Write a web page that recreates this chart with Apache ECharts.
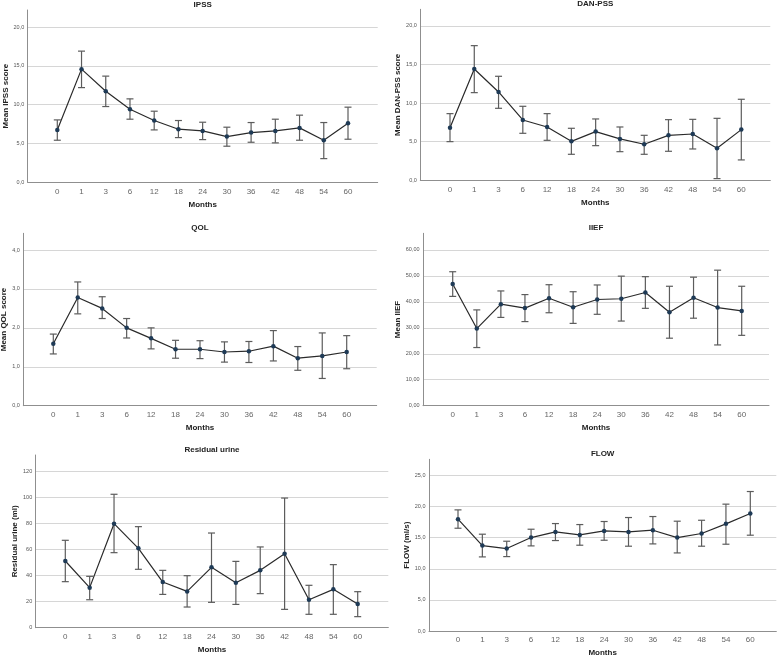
<!DOCTYPE html>
<html>
<head>
<meta charset="utf-8">
<script src="https://cdn.jsdelivr.net/npm/echarts@6/dist/echarts.min.js"></script>
<style>
  html, body { margin: 0; padding: 0; background: #fff; }
  #chart { width: 777px; height: 657px; }
</style>
</head>
<body>
<div id="chart"></div>
<script>
// follow-up months (x categories)
const months = ["0", "1", "3", "6", "12", "18", "24", "30", "36", "42", "48", "54", "60"];

// IPSS
const ipssMean = [6.75, 14.58, 11.74, 9.42, 7.96, 6.84, 6.62, 5.89, 6.41, 6.62, 7.01, 5.42, 7.61];
const ipssLow = [5.42, 12.2, 9.76, 8.13, 6.75, 5.76, 5.5, 4.65, 5.16, 5.08, 5.42, 3.05, 5.55];
const ipssHigh = [8.04, 16.9, 13.68, 10.75, 9.16, 7.96, 7.74, 7.1, 7.7, 8.13, 8.65, 7.7, 9.68];

// DAN-PSS
const danMean = [6.82, 14.43, 11.45, 7.82, 6.91, 5.05, 6.31, 5.36, 4.67, 5.83, 6.0, 4.15, 6.57];
const danLow = [5.01, 11.36, 9.33, 6.09, 5.18, 3.37, 4.49, 3.71, 3.37, 3.76, 4.06, 0.22, 2.64];
const danHigh = [8.64, 17.45, 13.48, 9.59, 8.64, 6.74, 7.95, 6.91, 5.83, 7.86, 7.9, 8.03, 10.5];

// QOL
const qolMean = [1.59, 2.78, 2.5, 2.0, 1.73, 1.45, 1.45, 1.38, 1.4, 1.53, 1.22, 1.28, 1.38];
const qolLow = [1.33, 2.36, 2.24, 1.74, 1.46, 1.22, 1.21, 1.12, 1.11, 1.15, 0.91, 0.7, 0.95];
const qolHigh = [1.84, 3.18, 2.8, 2.24, 2.0, 1.68, 1.67, 1.64, 1.65, 1.93, 1.52, 1.87, 1.8];

// IIEF
const iiefMean = [46.9, 29.7, 39.1, 37.6, 41.4, 37.9, 40.9, 41.2, 43.6, 36.0, 41.6, 37.8, 36.5];
const iiefLow = [42.1, 22.4, 34.0, 32.4, 35.8, 31.7, 35.2, 32.6, 37.5, 26.0, 33.7, 23.4, 27.1];
const iiefHigh = [51.6, 36.9, 44.2, 42.8, 46.6, 43.9, 46.5, 49.9, 49.7, 46.0, 49.5, 52.2, 46.0];

// Residual urine
const urineMean = [51.3, 30.8, 80.0, 61.0, 35.1, 27.9, 46.4, 34.6, 44.1, 56.9, 21.5, 29.5, 18.2];
const urineLow = [35.4, 21.5, 57.7, 44.9, 25.6, 15.9, 19.5, 17.9, 26.2, 14.1, 10.3, 10.3, 8.5];
const urineHigh = [67.2, 39.5, 102.6, 77.7, 44.1, 40.0, 72.8, 51.0, 62.1, 99.7, 32.6, 48.5, 27.7];

// FLOW
const flowMean = [17.97, 13.73, 13.25, 15.02, 15.93, 15.45, 16.09, 15.93, 16.2, 15.02, 15.67, 17.22, 18.88];
const flowLow = [16.52, 11.91, 11.96, 13.68, 14.54, 13.79, 14.59, 13.63, 14.0, 12.55, 13.63, 13.95, 15.4];
const flowHigh = [19.47, 15.56, 14.43, 16.36, 17.27, 17.11, 17.6, 18.24, 18.4, 17.65, 17.8, 20.39, 22.42];

const FONT = "Liberation Sans, Arial, sans-serif";

// panel frames: l/t/r/b = plot frame, x0/x1 = first/last category centre
const panels = [
  { title: "IPSS", yName: "Mean IPSS score", mean: ipssMean, low: ipssLow, high: ipssHigh,
    yMax: 22.2, step: 5, dec: 1, nameGap: 18,
    l: 27.7, t: 10, r: 377.7, b: 182.3, x0: 57.3, x1: 348 },
  { title: "DAN-PSS", yName: "Mean DAN-PSS score", mean: danMean, low: danLow, high: danHigh,
    yMax: 22.16, step: 5, dec: 1, nameGap: 18,
    l: 420.3, t: 9.3, r: 770.3, b: 180.3, x0: 450, x1: 741.3 },
  { title: "QOL", yName: "Mean QOL score", mean: qolMean, low: qolLow, high: qolHigh,
    yMax: 4.43, step: 1, dec: 1, nameGap: 15,
    l: 23.3, t: 233.3, r: 376.7, b: 405.7, x0: 53.3, x1: 346.7 },
  { title: "IIEF", yName: "Mean IIEF", mean: iiefMean, low: iiefLow, high: iiefHigh,
    yMax: 66.4, step: 10, dec: 2, nameGap: 20,
    l: 423, t: 233.3, r: 769, b: 405.7, x0: 452.7, x1: 741.7 },
  { title: "Residual urine", yName: "Residual urine (ml)", mean: urineMean, low: urineLow, high: urineHigh,
    yMax: 132.8, step: 20, dec: 0, nameGap: 17,
    l: 35.7, t: 455, r: 388.3, b: 627.7, x0: 65.3, x1: 357.7 },
  { title: "FLOW", yName: "FLOW (ml/s)", mean: flowMean, low: flowLow, high: flowHigh,
    yMax: 27.6, step: 5, dec: 1, nameGap: 17,
    l: 429, t: 459.3, r: 776.3, b: 631, x0: 458, x1: 750.3 }
];

const grid = [], xAxis = [], yAxis = [], series = [], title = [];

panels.forEach((p, i) => {
  const fi = i * 2, ii = i * 2 + 1;
  const h = p.b - p.t;

  title.push({
    text: p.title, left: (p.l + p.r) / 2, top: p.t - 9.5, textAlign: "center", padding: 0,
    textStyle: { fontFamily: FONT, fontSize: 8, fontWeight: "bold", color: "#222" }
  });

  // frame grid: axis lines, gridlines, y labels, names
  grid.push({ left: p.l, top: p.t, width: p.r - p.l, height: h, outerBoundsMode: "none" });
  // inner grid: category positions
  grid.push({ left: p.x0, top: p.t, width: p.x1 - p.x0, height: h, outerBoundsMode: "none" });

  xAxis.push({
    gridIndex: fi, type: "value", min: 0, max: 1,
    axisLine: { show: true, lineStyle: { color: "#8f8f8f", width: 1 } },
    axisTick: { show: false }, axisLabel: { show: false }, splitLine: { show: false },
    name: "Months", nameLocation: "middle", nameGap: 18,
    nameTextStyle: { fontFamily: FONT, fontSize: 8, fontWeight: "bold", color: "#222" }
  });
  xAxis.push({
    gridIndex: ii, type: "category", data: months, boundaryGap: false,
    axisLine: { show: false }, axisTick: { show: false }, splitLine: { show: false },
    axisLabel: { fontFamily: FONT, fontSize: 8, color: "#666", margin: 5 }
  });

  yAxis.push({
    gridIndex: fi, type: "value", min: 0, max: p.yMax, interval: p.step,
    axisLine: { show: true, lineStyle: { color: "#8f8f8f", width: 1 } },
    axisTick: { show: false },
    axisLabel: {
      fontFamily: FONT, fontSize: 5.5, color: "#555", margin: 3.5, showMaxLabel: false,
      formatter: v => {
        const r = Math.round(v / p.step) * p.step;
        if (Math.abs(r - v) > 1e-6) return "";
        return r.toFixed(p.dec).replace(".", ",");
      }
    },
    splitLine: { show: true, showMaxLine: false, lineStyle: { color: "#d6d6d6", width: 1.2 } },
    name: p.yName, nameLocation: "middle", nameGap: p.nameGap,
    nameTextStyle: { fontFamily: FONT, fontSize: 8, fontWeight: "bold", color: "#222" }
  });
  yAxis.push({ gridIndex: ii, type: "value", min: 0, max: p.yMax, show: false });

  series.push({
    type: "custom", xAxisIndex: ii, yAxisIndex: ii, z: 2, silent: true,
    data: months.map((m, j) => [j, p.low[j], p.high[j]]),
    renderItem: (params, api) => {
      const lo = api.coord([api.value(0), api.value(1)]);
      const hi = api.coord([api.value(0), api.value(2)]);
      const c = 3.5;
      const style = { stroke: "#5c5c5c", lineWidth: 1.2 };
      return {
        type: "group",
        children: [
          { type: "line", shape: { x1: lo[0], y1: lo[1], x2: hi[0], y2: hi[1] }, style },
          { type: "line", shape: { x1: lo[0] - c, y1: lo[1], x2: lo[0] + c, y2: lo[1] }, style },
          { type: "line", shape: { x1: hi[0] - c, y1: hi[1], x2: hi[0] + c, y2: hi[1] }, style }
        ]
      };
    }
  });
  series.push({
    type: "line", xAxisIndex: ii, yAxisIndex: ii, z: 3, silent: true,
    data: p.mean, symbol: "circle", symbolSize: 4.5,
    itemStyle: { color: "#1e3a56" },
    lineStyle: { color: "#2a2a2a", width: 1.2 }
  });
});

const chart = echarts.init(document.getElementById("chart"), null, { renderer: "canvas" });
chart.setOption({
  backgroundColor: "#fff",
  animation: false,
  title, grid, xAxis, yAxis, series
});
</script>
</body>
</html>
